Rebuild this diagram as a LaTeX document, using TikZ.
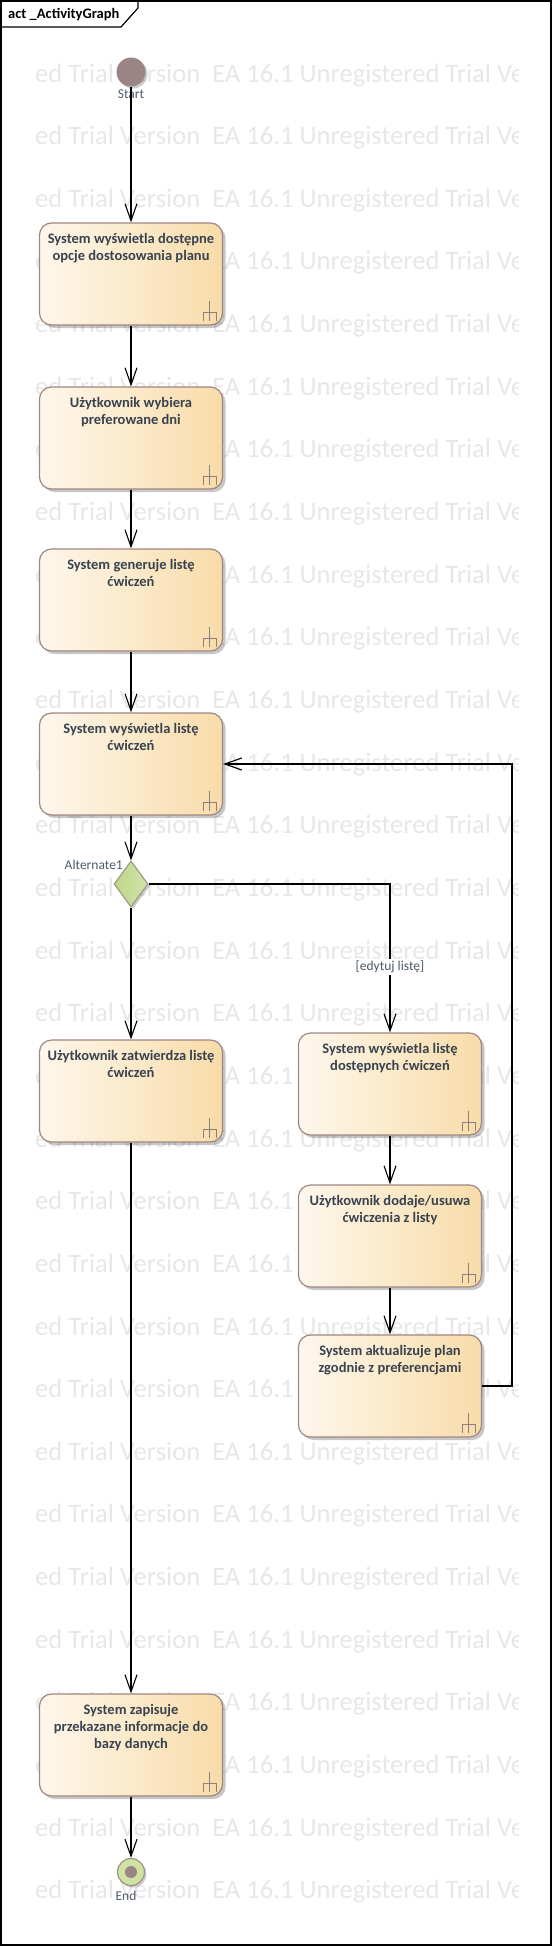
\documentclass[tikz,border=0pt]{standalone}
\usepackage{fontspec}
\setmainfont{Carlito}
\usetikzlibrary{arrows.meta,shapes.geometric,shadows}

\definecolor{actedge}{HTML}{A08680}
\definecolor{actleft}{HTML}{FEF7EC}
\definecolor{actright}{HTML}{F8DCA9}
\definecolor{acttxt}{HTML}{38434F}
\definecolor{lbltxt}{HTML}{4C5A6B}
\definecolor{forkcol}{HTML}{8E8080}
\definecolor{dotcol}{HTML}{9B8584}
\definecolor{greenleft}{HTML}{BCD688}
\definecolor{greenright}{HTML}{D2E5AB}
\definecolor{greenedge}{HTML}{9F9683}
\definecolor{wmark}{HTML}{E8E7E8}

\begin{document}
\begin{tikzpicture}[x=1pt,y=1pt,
    flow/.style={line width=1.1pt,-{Straight Barb[length=17pt,width=12pt]}},
    actbox/.style={draw=actedge,line width=1.2pt,rounded corners=12pt,
        left color=actleft,right color=actright,
        minimum width=183pt,minimum height=102pt,inner sep=0pt,
        drop shadow={shadow xshift=3pt,shadow yshift=-3pt,fill=black,opacity=0.22}},
    fork/.style={draw=forkcol,line width=0.9pt},
    acttext/.style={anchor=north,inner sep=0pt,align=center,text=acttxt,
        font=\fontsize{14.5}{17}\selectfont\bfseries,
        execute at begin node={\rule{0pt}{12pt}}},
    lbl/.style={inner sep=0pt,text=lbltxt,font=\fontsize{13.5}{16}\selectfont},
    wm/.style={anchor=base west,inner sep=0pt,text=wmark,font=\fontsize{26.6}{30}\selectfont}]

    \useasboundingbox (0,0) rectangle (552,-1946);

    % watermark
    \begin{scope}
        \clip (35,-40) rectangle (518,-1940);
        \foreach \k in {0,...,29}
            \node[wm] (wm\k) at (35,{-82-62.65*\k}) {ed Trial Version\ \ EA 16.1 Unregistered Trial Version};
    \end{scope}

    % frame
    \draw[line width=1.2pt] (1,-1) rectangle (551,-1945);
    \draw[line width=1.2pt] (1,-27) -- (121,-27) -- (138,-8) -- (138,-1);
    \node[anchor=base west,inner sep=0pt,font=\fontsize{14.5}{17}\selectfont\bfseries] (title) at (8,-19) {act \_ActivityGraph};

    % start / end
    \node[circle,fill=dotcol,minimum size=29pt,inner sep=0pt,
          drop shadow={shadow xshift=2pt,shadow yshift=-2pt,fill=black,opacity=0.2}] (start) at (131,-72) {};
    \node[lbl,anchor=north] (startLbl) at ([yshift=-3pt]start.south) {Start};

    \node[circle,draw=greenedge,line width=1.2pt,fill=greenright!80!greenleft,minimum size=27pt,inner sep=0pt,
          drop shadow={shadow xshift=2pt,shadow yshift=-2pt,fill=black,opacity=0.2}] (end) at (131,-1872) {};
    \node[circle,fill=dotcol,minimum size=12pt,inner sep=0pt] (endDot) at (end) {};
    \node[lbl,anchor=north] (endLbl) at ([xshift=-5pt,yshift=-5pt]end.south) {End};

    % left column
    \node[actbox] (opcjePlanu) at (131,-274) {};
    \node[acttext] (opcjePlanuT) at ([yshift=-11pt]opcjePlanu.north) {System wyświetla dostępne\\opcje dostosowania planu};

    \node[actbox] (wyborDni) at (131,-438) {};
    \node[acttext] (wyborDniT) at ([yshift=-11pt]wyborDni.north) {Użytkownik wybiera\\preferowane dni};

    \node[actbox] (generuj) at (131,-600) {};
    \node[acttext] (generujT) at ([yshift=-11pt]generuj.north) {System generuje listę\\ćwiczeń};

    \node[actbox] (pokazListe) at (131,-764) {};
    \node[acttext] (pokazListeT) at ([yshift=-11pt]pokazListe.north) {System wyświetla listę\\ćwiczeń};

    \node[diamond,draw=greenedge,line width=1.1pt,left color=greenleft,right color=greenright,
          minimum width=34pt,minimum height=46pt,inner sep=0pt,
          drop shadow={shadow xshift=2pt,shadow yshift=-2pt,fill=black,opacity=0.2}] (wybor) at (131,-884) {};
    \node[lbl,anchor=base east] (wyborLbl) at (123,-869) {Alternate1};

    \node[actbox] (zatwierdz) at (131,-1091) {};
    \node[acttext] (zatwierdzT) at ([yshift=-11pt]zatwierdz.north) {Użytkownik zatwierdza listę\\ćwiczeń};

    \node[actbox] (zapisz) at (131,-1745) {};
    \node[acttext] (zapiszT) at ([yshift=-11pt]zapisz.north) {System zapisuje\\przekazane informacje do\\bazy danych};

    % right column
    \node[actbox] (dostepne) at (390,-1084) {};
    \node[acttext] (dostepneT) at ([yshift=-11pt]dostepne.north) {System wyświetla listę\\dostępnych ćwiczeń};

    \node[actbox] (edytuj) at (390,-1236) {};
    \node[acttext] (edytujT) at ([yshift=-11pt]edytuj.north) {Użytkownik dodaje/usuwa\\ćwiczenia z listy};

    \node[actbox] (aktualizuj) at (390,-1386) {};
    \node[acttext] (aktualizujT) at ([yshift=-11pt]aktualizuj.north) {System aktualizuje plan\\zgodnie z preferencjami};

    % rake marks
    \foreach \b in {opcjePlanu,wyborDni,generuj,pokazListe,zatwierdz,zapisz,dostepne,edytuj,aktualizuj}
        \draw[fork] ([xshift=-13.5pt,yshift=25pt]\b.south east) -- ++(0,-20)
                    ([xshift=-20pt,yshift=5pt]\b.south east) -- ++(0,8) -- ++(13,0) -- ++(0,-8);

    \coordinate (loopR) at (512,0);

    % flows
    \draw[flow] (start) -- (opcjePlanu);
    \draw[flow] (opcjePlanu) -- (wyborDni);
    \draw[flow] (wyborDni) -- (generuj);
    \draw[flow] (generuj) -- (pokazListe);
    \draw[flow] (pokazListe) -- (wybor);
    \draw[flow] (wybor) -- (zatwierdz);
    \draw[flow] (zatwierdz) -- (zapisz);
    \draw[flow] (zapisz) -- (end);
    \draw[flow] (wybor.east) -| (dostepne.north)
        node[lbl,pos=0.78,fill=white,inner sep=2pt] (edytujLbl) {[edytuj listę]};
    \draw[flow] (dostepne) -- (edytuj);
    \draw[flow] (edytuj) -- (aktualizuj);
    \draw[flow] (aktualizuj.east) -- (aktualizuj.east -| loopR) |- (pokazListe.east);

\end{tikzpicture}
\end{document}
